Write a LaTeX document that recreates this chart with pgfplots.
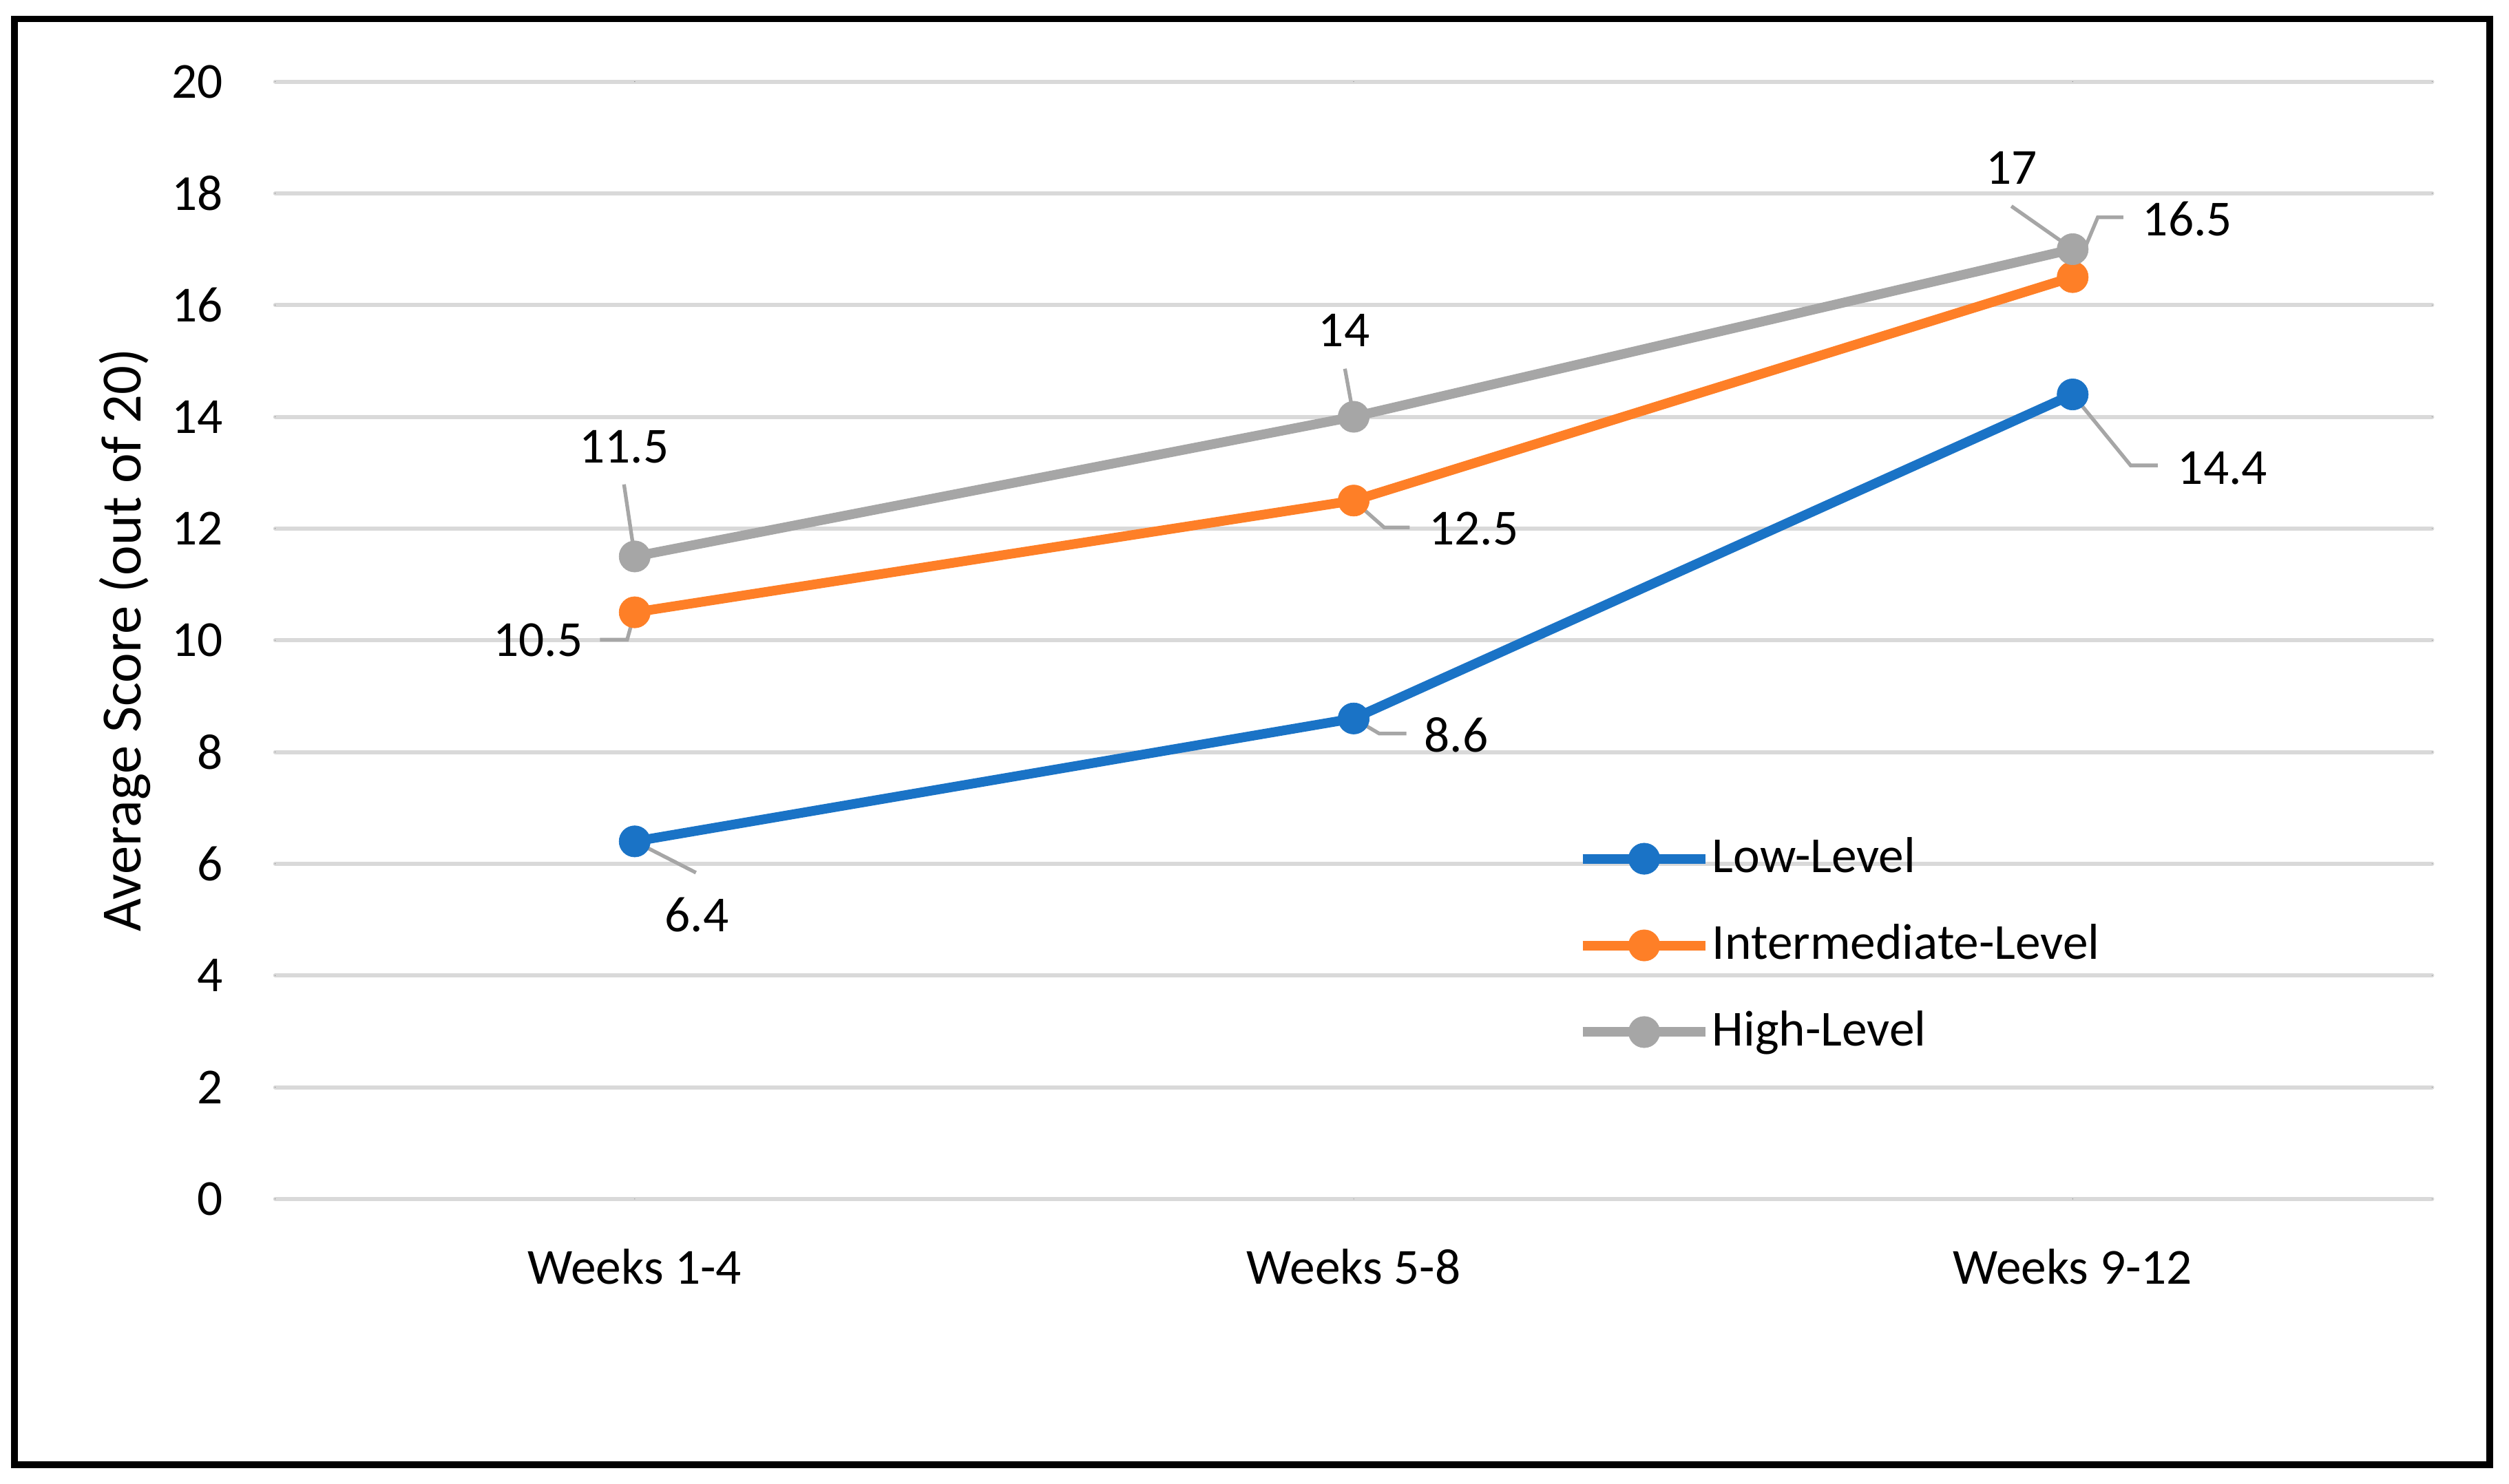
\documentclass[border=0pt]{standalone}
\usepackage{pgfplots}
\pgfplotsset{compat=1.18}
\usepackage{fontspec}
\setmainfont{Carlito}

\definecolor{lowblue}{RGB}{26,115,198}
\definecolor{midorange}{RGB}{254,127,39}
\definecolor{highgray}{RGB}{166,166,166}
\definecolor{gridgray}{RGB}{217,217,217}

\begin{document}
\fontsize{11}{13.2}\selectfont
\begin{tikzpicture}
% page extent and outer frame
\path (0,0) rectangle (546.6pt,323.26pt);
\draw[line width=1.4pt] (3.14pt,4.04pt) rectangle (542.4pt,319.1pt);

\begin{axis}[
    at={(59.96pt,61.98pt)}, anchor=south west,
    scale only axis,
    width=469.9pt, height=243.5pt,
    xmin=-0.5, xmax=2.5,
    ymin=0, ymax=20,
    xtick={0,1,2},
    xticklabels={Weeks 1-4, Weeks 5-8, Weeks 9-12},
    ytick={0,2,...,20},
    axis line style={draw=none},
    major tick length=0pt,
    ymajorgrids,
    grid style={gridgray, line width=0.9pt},
    /pgf/number format/assume math mode=true,
    yticklabel style={anchor=east, inner sep=0pt, xshift=-11.2pt},
    xticklabel style={anchor=north, inner sep=0pt, yshift=-10.7pt},
    ylabel={Average Score (out of 20)},
    ylabel style={at={(axis description cs:-0.0697,0.5)}, anchor=center,
        font=\fontsize{12.4}{14.8}\selectfont},
    clip=false,
    line cap=round,
    legend style={
        at={(axis description cs:0.6035,0.2269)}, anchor=west,
        draw=none, fill=none, inner sep=0pt,
        row sep=9.6pt, column sep=0.4pt,
        nodes={inner sep=0pt},
    },
    legend cell align=left,
    legend image code/.code={
        \draw[mark repeat=2, mark phase=2, #1]
            plot coordinates {(0pt,0pt) (13.4pt,0pt) (26.8pt,0pt)};
    },
]

% Low-Level
\addplot[lowblue, line width=2.1pt, mark=*, mark size=3.4pt,
    mark options={solid, line width=0.1pt}] coordinates {
    (0,6.4) (1,8.6) (2,14.4)
};

% Intermediate-Level
\addplot[midorange, line width=2.1pt, mark=*, mark size=3.4pt,
    mark options={solid, line width=0.1pt}] coordinates {
    (0,10.5) (1,12.5) (2,16.5)
};

% High-Level
\addplot[highgray, line width=2.1pt, mark=*, mark size=3.4pt,
    mark options={solid, line width=0.1pt}] coordinates {
    (0,11.5) (1,14) (2,17)
};

\legend{Low-Level, Intermediate-Level, High-Level}

% data labels with leader lines
\begin{scope}[highgray, line width=0.8pt, line cap=butt]
\draw (axis cs:-0.0149,12.79) -- (axis cs:0,11.5);
\draw (axis cs:-0.0483,10.01) -- (axis cs:-0.0105,10.01) -- (axis cs:0,10.5);
\draw (axis cs:0,6.4) -- (axis cs:0.0852,5.84);
\draw (axis cs:0.9878,14.86) -- (axis cs:1,14);
\draw (axis cs:1,12.5) -- (axis cs:1.0423,12.02) -- (axis cs:1.0779,12.02);
\draw (axis cs:1,8.6) -- (axis cs:1.0355,8.33) -- (axis cs:1.0734,8.33);
\draw (axis cs:1.9147,17.77) -- (axis cs:2,17);
\draw (axis cs:2.0705,17.57) -- (axis cs:2.0349,17.57) -- (axis cs:2,16.5);
\draw (axis cs:2,14.4) -- (axis cs:2.0806,13.13) -- (axis cs:2.1184,13.13);
\end{scope}

\node at (axis cs:-0.0149,13.46) {11.5};
\node at (axis cs:-0.1343,10.0) {10.5};
\node at (axis cs:0.0864,5.08) {6.4};
\node at (axis cs:0.9866,15.55) {14};
\node at (axis cs:1.1669,12.0) {12.5};
\node at (axis cs:1.1427,8.31) {8.6};
\node at (axis cs:1.9147,18.45) {17};
\node at (axis cs:2.1595,17.54) {16.5};
\node at (axis cs:2.2084,13.08) {14.4};

\end{axis}
\end{tikzpicture}
\end{document}
